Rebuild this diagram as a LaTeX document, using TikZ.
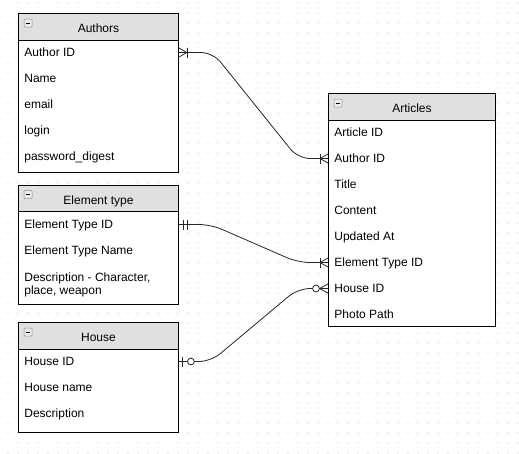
\documentclass[tikz,border=0pt]{standalone}
\usepackage{fontspec}
\setmainfont{Liberation Sans}

\tikzset{
  % ---------- Relationship ends ----------
  pics/onemany/.style={code={
    \draw (0,-4.5) -- (8,0) -- (0,4.5);
    \draw (8,-5) -- (8,5);
  }},
  pics/onlyone/.style={code={
    \draw (4,-5) -- (4,5) (8,-5) -- (8,5);
  }},
  pics/zeroone/.style={code={
    \draw (3,-5) -- (3,5);
    \draw[fill=white] (12,0) circle (3.4pt);
  }},
  pics/zeromany/.style={code={
    \draw (0,-4.5) -- (8.5,0) -- (0,4.5);
    \draw[fill=white] (12,0) circle (3.4pt);
  }},
  % collapse button in the header
  pics/fold/.style={code={
    \draw[black!45, fill=black!8, line width=0.5pt, rounded corners=0.8pt] (6,6) rectangle (14,14);
    \draw[line width=0.9pt] (7.8,10) -- (12.2,10);
  }},
}

\begin{document}
\begin{tikzpicture}[x=1pt, y=-1pt, line width=0.8pt,
  head/.style={draw=black, line width=0.9pt, fill=black!12, anchor=north west, inner sep=0pt,
    minimum height=26.5pt, text height=12pt, text depth=0pt,
    font=\fontsize{12}{14}\selectfont},
  body/.style={draw=black, line width=0.9pt, fill=white, anchor=north west, inner sep=0pt},
  field/.style={anchor=west, inner sep=0pt, text height=8.6pt, text depth=0pt,
    font=\fontsize{12}{14}\selectfont},
  note/.style={anchor=north west, inner sep=0pt, align=left,
    font=\fontsize{12}{13.5}\selectfont},
  link/.style={black!85, rounded corners=12pt},
]

% ---------- Canvas ----------
\fill[white] (0,0) rectangle (519,453);
\useasboundingbox (0,0) rectangle (519,453);
\foreach \x in {8,18,...,518}
  \foreach \y in {3,13,...,453}
    \fill[black!25] (\x,\y) circle (0.55pt);

% ---------- Authors ----------
\node[head, minimum width=160pt] (authhead) at (18,13) {Authors};
\node[body, minimum width=160pt, minimum height=132.5pt] (authbody) at (18,39.5) {};
\foreach \t [count=\i] in {Author ID, Name, email, login, password\_digest}
  \node[field] (au\i) at (24, 26.5+26*\i) {\t};

% ---------- Element type ----------
\node[head, minimum width=160pt] (typehead) at (18,184.5) {Element type};
\node[body, minimum width=160pt, minimum height=92.5pt] (typebody) at (18,211) {};
\foreach \t [count=\i] in {Element Type ID, Element Type Name}
  \node[field] (et\i) at (24, 198.5+26*\i) {\t};
\node[note] (et3) at (24,272) {Description - Character,\\place, weapon};

% ---------- House ----------
\node[head, minimum width=160pt] (househead) at (18,322) {House};
\node[body, minimum width=160pt, minimum height=83pt] (housebody) at (18,348.5) {};
\foreach \t [count=\i] in {House ID, House name, Description}
  \node[field] (ho\i) at (24, 335.5+26*\i) {\t};

% ---------- Articles ----------
\node[head, minimum width=167pt] (arthead) at (328,93) {Articles};
\node[body, minimum width=167pt, minimum height=206pt] (artbody) at (328,119.5) {};
\foreach \t [count=\i] in {Article ID, Author ID, Title, Content, Updated At, Element Type ID, House ID, Photo Path}
  \node[field] (ar\i) at (334, 106.5+26*\i) {\t};

\foreach \h in {authhead, typehead, househead, arthead}
  \pic at (\h.north west) {fold};

% ---------- Relationships ----------
\coordinate (pAuth)  at (au1 -| authbody.east);
\coordinate (qAuth)  at (ar2 -| artbody.west);
\coordinate (pType)  at (et1 -| typebody.east);
\coordinate (qType)  at (ar6 -| artbody.west);
\coordinate (pHouse) at (ho1 -| housebody.east);
\coordinate (qHouse) at (ar7 -| artbody.west);

\draw[link] (pAuth) -- ++(34,0) -- ([xshift=-30pt]qAuth) -- (qAuth);
\draw[link] (pType) -- ++(32,0) -- ([xshift=-30pt]qType) -- (qType);
\draw[link] (pHouse) -- ++(32,0) -- ([xshift=-30pt]qHouse) -- (qHouse);

\pic[black!85] at (pAuth) {onemany};
\pic[black!85, rotate=180] at (qAuth) {onemany};
\pic[black!85] at (pType) {onlyone};
\pic[black!85, rotate=180] at (qType) {onemany};
\pic[black!85] at (pHouse) {zeroone};
\pic[black!85, rotate=180] at (qHouse) {zeromany};

\end{tikzpicture}
\end{document}
